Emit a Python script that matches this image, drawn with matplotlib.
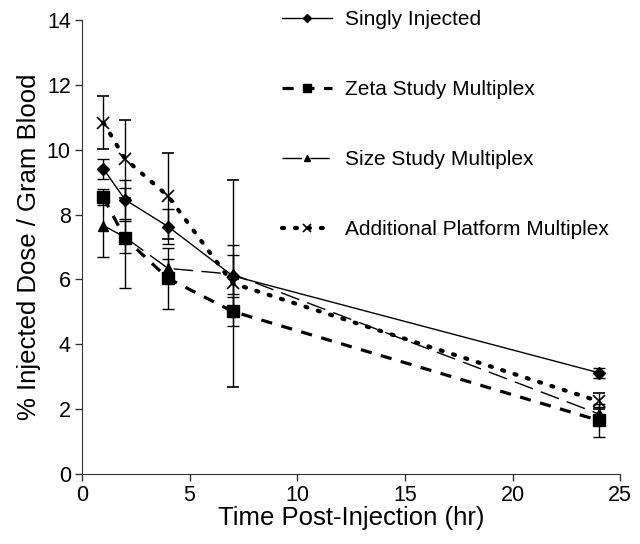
import matplotlib.pyplot as plt

plt.rcParams['font.family'] = ['Liberation Sans', 'DejaVu Sans']

hours = [1, 2, 4, 7, 24]

singly = [9.41, 8.46, 7.63, 6.11, 3.12]
singly_err = [0.30, 0.60, 0.55, 0.95, 0.15]

zeta = [8.53, 7.27, 6.03, 5.01, 1.65]
zeta_err = [0.25, 1.55, 0.95, 0.45, 0.50]

size = [7.66, 7.30, 6.34, 6.16, 1.85]
size_err = [0.96, 0.50, 0.30, 0.60, 0.20]

additional = [10.84, 9.72, 8.57, 5.88, 2.24]
additional_err = [0.82, 1.21, 1.33, 3.19, 0.25]

labels = ['Singly Injected', 'Zeta Study Multiplex', 'Size Study Multiplex',
          'Additional Platform Multiplex']

fig = plt.figure(figsize=(6.4, 5.44), dpi=100)
ax = fig.add_axes([0.128, 0.129, 0.841, 0.834])

eb = dict(ecolor='black', elinewidth=1, capsize=4, capthick=1)
ax.errorbar(hours, singly, yerr=singly_err, color='black', lw=1, ls='-',
            marker='D', ms=6, label=labels[0], **eb)
ax.errorbar(hours, zeta, yerr=zeta_err, color='black', lw=2.3, ls=(0, (3.5, 3)),
            marker='s', ms=8, label=labels[1], **eb)
ax.errorbar(hours, size, yerr=size_err, color='black', lw=1, ls=(0, (14, 6)),
            marker='^', ms=7, label=labels[2], **eb)
ax.errorbar(hours, additional, yerr=additional_err, color='black', lw=3, ls=(0, (0.5, 2.6)),
            dash_capstyle='round', marker='x', ms=8, mew=1.2, label=labels[3], **eb)

ax.set_xlim(0, 25)
ax.set_ylim(0, 14)
ax.set_xticks([0, 5, 10, 15, 20, 25])
ax.set_yticks(range(0, 15, 2))
ax.tick_params(labelsize=15.5, direction='out', length=5, width=1, color='#333333', pad=3)
for s in ['left', 'bottom']:
    ax.spines[s].set_color('#333333')
ax.spines['top'].set_visible(False)
ax.spines['right'].set_visible(False)
ax.set_xlabel('Time Post-Injection (hr)', fontsize=18.5, labelpad=0)
ax.set_ylabel('% Injected Dose / Gram Blood', fontsize=18.5, labelpad=4)

handles, lbls = ax.get_legend_handles_labels()
handles = [h[0] for h in handles]
fig.legend(handles, lbls, loc='upper left', bbox_to_anchor=(0.411, 1.016),
           frameon=False, fontsize=15, labelspacing=2.45, handlelength=2.4,
           handletextpad=0.65, markerscale=0.7)

fig.savefig('out.png', dpi=100)
